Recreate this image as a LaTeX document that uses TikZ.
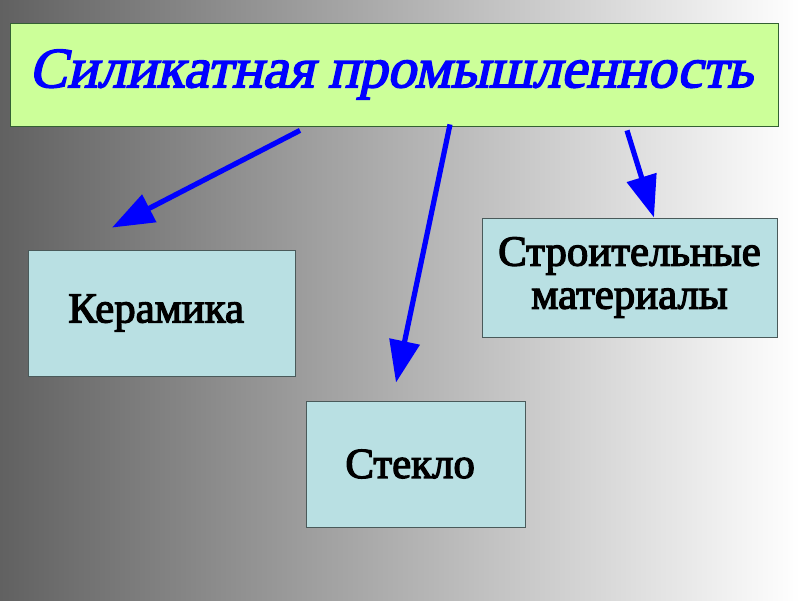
\documentclass[tikz,border=0pt]{standalone}
\usepackage{fontspec}
\setmainfont{Liberation Serif}
\usetikzlibrary{arrows.meta}

\definecolor{titlefill}{HTML}{CCFF99}
\definecolor{boxfill}{HTML}{B9E0E3}
\definecolor{boxline}{HTML}{4A5A5A}
% thicker strokes on the text
\newcommand{\boldink}[1]{\special{pdf:literal direct 2 Tr #1 w}}

\begin{document}
\begin{tikzpicture}[font=\fontsize{30.5}{30.6}\selectfont\boldink{0.9},
	block/.style = { rectangle, draw=boxline, line width=0.6pt, fill=boxfill,
	align=center, inner sep=0pt},
	link/.style = { draw=blue, line width=3.7pt,
	-{Triangle[length=1.05cm, width=0.75cm]} } ]

  \useasboundingbox (0,0) rectangle (20,15);
  \shade [left color=black!62, right color=white] (0,0) rectangle (20,15);

  \node [name=title, block, fill=titlefill, draw=black!70!green!60!gray,
	minimum width=19.2cm, minimum height=2.575cm] at (9.85,13.1375) {};
  \begin{scope}[shift={(title.center)}, xslant=0.22]
    \node [name=title-text, transform shape, inner sep=0pt,
	font=\fontsize{40.5}{44}\selectfont\boldink{1.1}, text=blue]
	{ Силикатная промышленность };
  \end{scope}
  \node [name=keramika, block,
	minimum width=6.675cm, minimum height=3.15cm] at (4.0375,7.175) { Керамика };
  \node [name=steklo, block,
	minimum width=5.475cm, minimum height=3.15cm] at (10.3875,3.4) { Стекло };
  \node [name=stroit, block,
	minimum width=7.375cm, minimum height=2.975cm] at (15.7375,8.0625)
	{ Строительные\\ материалы };

  \coordinate (keramika-in) at ([shift={(-1.2375,0.55)}]keramika.north);
  \coordinate (steklo-in) at ([shift={(-0.4875,0.45)}]steklo.north);
  \coordinate (stroit-in) at (stroit.north);

  \draw [link] ([shift={(-2.35,-0.1)}]title.south) -- (keramika-in);
  \draw [link] ([shift={(1.4,0.05)}]title.south) -- (steklo-in);
  \draw [link] ([shift={(5.825,-0.1)}]title.south) -- ([xshift=0.6125cm]stroit-in);
\end{tikzpicture}
\end{document}
